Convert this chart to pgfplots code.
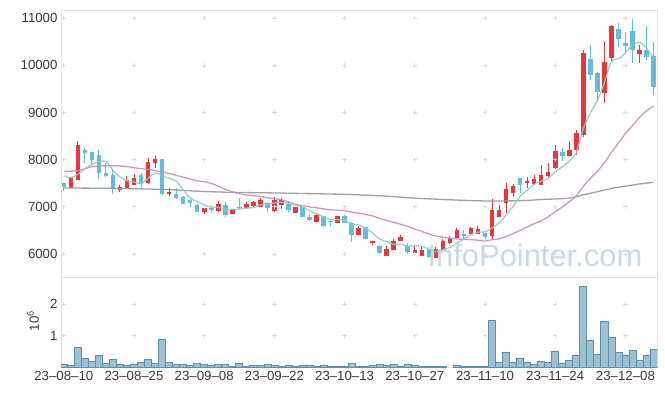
\documentclass[border=0pt]{standalone}
\usepackage{pgfplots}
\pgfplotsset{compat=1.18}
\usepackage{pgfplotstable}
\usepackage{fontspec}
\setmainfont{Liberation Sans}

\definecolor{upc}{RGB}{232,54,58}
\definecolor{dnc}{RGB}{96,190,220}
\definecolor{ma5c}{RGB}{140,206,190}
\definecolor{ma20c}{RGB}{200,138,196}
\definecolor{ma120c}{RGB}{150,150,150}
\definecolor{volf}{RGB}{155,193,210}
\definecolor{vold}{RGB}{92,144,170}
\definecolor{gridc}{RGB}{220,220,220}
\definecolor{framec}{RGB}{226,226,226}
\definecolor{txtc}{RGB}{55,55,55}
\definecolor{wmc}{RGB}{200,218,230}

\pgfplotstableread{
i O H L C
1 7410 7630 7400 7620
2 7580 8390 7560 8300
8 7360 7470 7320 7420
9 7405 7650 7400 7560
10 7480 7690 7460 7600
12 7510 8030 7490 7940
13 7940 8070 7820 8000
15 7270 7400 7230 7310
20 6890 6990 6850 6980
22 6920 7120 6890 7060
24 6860 6960 6850 6950
26 6980 7110 6960 7060
27 7020 7130 6990 7090
28 7000 7180 6990 7140
30 6920 7200 6900 7140
31 7050 7180 6960 7140
33 6880 6990 6870 6990
36 6690 6840 6680 6830
39 6670 6810 6650 6790
42 6410 6590 6400 6550
44 6230 6280 6190 6270
46 5970 6160 5960 6110
47 6100 6320 6080 6280
48 6290 6400 6270 6350
50 6030 6190 5990 6070
51 5960 6140 5950 6080
53 5930 6140 5920 6100
54 6090 6310 6080 6260
55 6230 6380 6210 6330
56 6350 6550 6330 6510
58 6420 6570 6400 6550
59 6440 6590 6420 6530
61 6390 7170 6310 6930
62 6800 7040 6790 6930
63 7090 7500 6860 7370
64 7300 7480 7210 7440
66 7510 7640 7400 7550
67 7500 7670 7470 7590
68 7480 7890 7470 7670
69 7650 7930 7630 7730
70 7840 8320 7810 8180
72 8090 8390 8070 8200
73 8210 8630 8100 8570
74 8520 10330 8480 10260
77 9420 10510 9200 10070
78 10160 10850 10070 10820
82 10250 10430 10050 10320
}\uptab

\pgfplotstableread{
i O H L C
0 7500 7510 7330 7430
3 8200 8240 7920 8150
4 8150 8160 7890 7990
5 8100 8200 7600 7720
6 7720 7930 7640 7660
7 7680 7780 7280 7390
11 7670 7710 7430 7500
14 8000 8010 7250 7270
16 7270 7390 7170 7200
17 7210 7240 7050 7060
18 7130 7160 7000 7090
19 7040 7060 6890 6900
21 6970 7020 6860 6930
23 7040 7100 6790 6830
25 7000 7180 6950 6980
29 7070 7100 6900 6980
32 7060 7120 6900 6930
34 6990 7000 6780 6790
35 6780 6840 6690 6730
37 6800 6810 6570 6600
38 6700 6750 6590 6680
40 6810 6830 6650 6670
41 6660 6670 6250 6400
43 6560 6580 6320 6330
45 6170 6200 5990 6030
49 6160 6240 6000 6050
52 6110 6150 5910 5940
57 6420 6510 6320 6400
60 6440 6450 6310 6360
65 7600 7610 7290 7460
71 8150 8240 7970 8080
75 10130 10430 9700 9810
76 9840 9850 9230 9450
79 10770 10910 10400 10560
80 10480 10700 10260 10420
81 10730 10990 10050 10340
83 10320 10830 10110 10180
84 10190 10500 9380 9550
}\dntab

\pgfplotstableread{
i m5 m20
0 7660 7750
1 7620 7755
2 7690 7770
3 7810 7810
4 7898 7850
5 7956 7865
6 7964 7870
7 7782 7870
8 7636 7865
9 7550 7855
10 7526 7830
11 7494 7810
12 7604 7795
13 7720 7770
14 7662 7740
15 7604 7705
16 7544 7670
17 7368 7630
18 7186 7590
19 7112 7556
20 7046 7533
21 6992 7499
22 6992 7437
23 6940 7371
24 6950 7319
25 6950 7282
26 6976 7252
27 6982 7237
28 7044 7223
29 7050 7194
30 7082 7171
31 7098 7153
32 7066 7102
33 7036 7052
34 6998 7028
35 6916 6999
36 6854 6980
37 6788 6957
38 6726 6937
39 6726 6931
40 6714 6916
41 6628 6889
42 6618 6864
43 6548 6839
44 6444 6805
45 6316 6757
46 6258 6710
47 6204 6669
48 6208 6630
49 6164 6583
50 6172 6530
51 6166 6477
52 6098 6427
53 6048 6383
54 6090 6356
55 6142 6336
56 6228 6320
57 6320 6310
58 6410 6304
59 6464 6291
60 6470 6275
61 6554 6302
62 6660 6321
63 6824 6373
64 7006 6431
65 7226 6503
66 7350 6575
67 7482 6640
68 7542 6706
69 7600 6790
70 7744 6896
71 7850 6996
72 7972 7109
73 8152 7232
74 8658 7432
75 8984 7606
76 9258 7753
77 9632 7937
78 10082 8150
79 10142 8352
80 10264 8555
81 10442 8725
82 10492 8895
83 10364 9035
84 10162 9141
}\matab

\pgfplotstableread{
i g
0 7400
5 7395
10 7385
15 7365
20 7325
25 7305
30 7295
35 7280
40 7265
45 7235
50 7185
55 7150
60 7125
65 7130
68 7155
72 7185
74 7255
76 7320
78 7390
80 7440
82 7485
84 7520
}\grtab

\pgfplotstableread{
i v
0 0.095
1 0.063
2 0.635
3 0.286
4 0.19
5 0.38
6 0.127
7 0.254
8 0.095
9 0.063
10 0.095
11 0.159
12 0.254
13 0.137
14 0.889
15 0.159
16 0.095
17 0.095
18 0.063
19 0.127
20 0.095
21 0.063
22 0.095
23 0.095
24 0.032
25 0.127
26 0.032
27 0.063
28 0.063
29 0.095
30 0.063
31 0.032
32 0.063
33 0.032
34 0.063
35 0.063
36 0.032
37 0.063
38 0.032
39 0.032
40 0.032
41 0.127
42 0.032
43 0.032
44 0.063
45 0.095
46 0.063
47 0.095
48 0.032
49 0.095
50 0.063
51 0.032
52 0.032
53 0.032
54 0.032
56 0.063
57 0.032
58 0.032
59 0.032
60 0.032
61 1.49
62 0.159
63 0.476
64 0.159
65 0.286
66 0.159
67 0.095
68 0.19
69 0.159
70 0.508
71 0.127
72 0.222
73 0.38
74 2.57
75 0.857
76 0.413
77 1.46
78 0.952
79 0.476
80 0.38
81 0.54
82 0.222
83 0.38
84 0.571
}\voltab

\pgfplotsset{
  base/.style={
    scale only axis, width=596bp, xmin=-0.4, xmax=84.5,
    axis line style={draw=framec, line width=0.8bp},
    major tick length=0pt,
    scaled y ticks=false, scaled x ticks=false,
    tick label style={font=\fontsize{13.3}{16}\selectfont, text=txtc},
  },
  cross/.style={only marks, mark=+, mark size=2.2bp, draw=gridc, mark options={line width=0.8bp}},
  candle/.style 2 args={draw=none, mark=none, forget plot,
    error bars/.cd, y dir=both, y explicit, error mark=none,
    error bar style={line width=#1, draw=#2}},
}

\begin{document}
\begin{tikzpicture}
\useasboundingbox (0,0) rectangle (665bp,396bp);

\begin{axis}[base, at={(61bp,118.3bp)}, anchor=south west, height=267.7bp,
  ymin=5497, ymax=11176,
  ytick={6000,7000,8000,9000,10000,11000},
  yticklabels={6000,7000,8000,9000,10000,11000},
  xtick=\empty]
\addplot[cross] coordinates {
(0,6000)(10,6000)(20,6000)(30,6000)(40,6000)(50,6000)(60,6000)(70,6000)(80,6000)
(0,7000)(10,7000)(20,7000)(30,7000)(40,7000)(50,7000)(60,7000)(70,7000)(80,7000)
(0,8000)(10,8000)(20,8000)(30,8000)(40,8000)(50,8000)(60,8000)(70,8000)(80,8000)
(0,9000)(10,9000)(20,9000)(30,9000)(40,9000)(50,9000)(60,9000)(70,9000)(80,9000)
(0,10000)(10,10000)(20,10000)(30,10000)(40,10000)(50,10000)(60,10000)(70,10000)(80,10000)
(0,11000)(10,11000)(20,11000)(30,11000)(40,11000)(50,11000)(60,11000)(70,11000)(80,11000)
};
\node[anchor=base west, inner sep=0pt, text=wmc, font=\fontsize{31}{31}\selectfont] at (axis cs:51.8,5731) {InfoPointer.com};

% wicks
\addplot[candle={1bp}{upc}]
  table[x=i, y expr={(\thisrow{H}+\thisrow{L})/2}, y error expr={(\thisrow{H}-\thisrow{L})/2}] {\uptab};
\addplot[candle={1bp}{dnc}]
  table[x=i, y expr={(\thisrow{H}+\thisrow{L})/2}, y error expr={(\thisrow{H}-\thisrow{L})/2}] {\dntab};
% bodies
\addplot[candle={4.6bp}{upc}]
  table[x=i, y expr={(\thisrow{O}+\thisrow{C})/2}, y error expr={(\thisrow{C}-\thisrow{O})/2+6}] {\uptab};
\addplot[candle={4.6bp}{dnc}]
  table[x=i, y expr={(\thisrow{O}+\thisrow{C})/2}, y error expr={(\thisrow{O}-\thisrow{C})/2+6}] {\dntab};

% moving averages
\addplot[ma120c, line width=1.3bp, smooth, opacity=0.9] table[x=i, y=g] {\grtab};
\addplot[ma20c, line width=1.3bp, smooth, opacity=0.9] table[x=i, y=m20] {\matab};
\addplot[ma5c, line width=1.3bp, smooth, opacity=0.9] table[x=i, y=m5] {\matab};
\end{axis}

\begin{axis}[base, at={(61bp,28.7bp)}, anchor=south west, height=89.6bp,
  ymin=0, ymax=2.844, ytick={1,2}, yticklabels={1,2},
  xtick={0,10,20,30,40,50,60,70,80},
  xticklabels={23--08--10,23--08--25,23--09--08,23--09--22,23--10--13,23--10--27,23--11--10,23--11--24,23--12--08}]
\addplot[cross] coordinates {
(0,1)(10,1)(20,1)(30,1)(40,1)(50,1)(60,1)(70,1)(80,1)
(0,2)(10,2)(20,2)(30,2)(40,2)(50,2)(60,2)(70,2)(80,2)
};
\addplot[ybar, bar width=1, fill=volf, draw=vold, line width=0.7bp] table[x=i, y=v] {\voltab};
\end{axis}

\node[rotate=90, text=txtc, font=\fontsize{13.3}{16}\selectfont] at (33bp,75bp) {10\textsuperscript{6}};
\end{tikzpicture}
\end{document}
